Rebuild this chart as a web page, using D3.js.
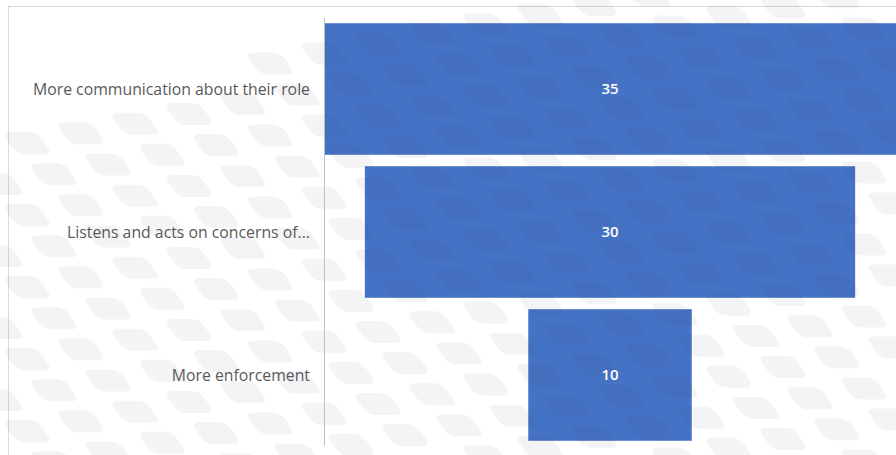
<!DOCTYPE html>
<html>
<head>
<meta charset="utf-8">
<script src="https://cdn.jsdelivr.net/npm/d3@7"></script>
<style>
  html, body { margin: 0; padding: 0; background: #fff; }
  svg { display: block; }
  text { font-family: "Open Sans", "Noto Sans", sans-serif; }
</style>
</head>
<body>
<svg id="chart" width="896" height="455"></svg>
<script>
// funnel data
const categories = ["More communication about their role", "Listens and acts on concerns of...", "More enforcement"];
const values = [35, 30, 10];

const width = 896, height = 455;
const svg = d3.select("#chart");

// frame
svg.append("rect")
    .attr("x", 8.5).attr("y", 6.5)
    .attr("width", 900).attr("height", 460)
    .attr("fill", "#fff")
    .attr("stroke", "#d9d9d9");

const axisX = 324;
const maxW = 572;
const centre = axisX + maxW / 2;

var x = d3.scaleLinear()
    .domain([0, d3.max(values)])
    .range([0, maxW]);

var y = d3.scaleBand()
    .domain(categories)
    .range([17.5, 446.5])
    .paddingInner(0.08)
    .paddingOuter(0.04);

let data = categories.map(function (c, i) { return {cat: c, value: values[i]}; });

// bars
svg.append("g").attr("id", "bars")
    .selectAll("rect")
    .data(data)
    .enter().append("rect")
    .attr("x", function (d) { return centre - x(d.value) / 2; })
    .attr("y", function (d) { return y(d.cat); })
    .attr("width", function (d) { return x(d.value); })
    .attr("height", y.bandwidth())
    .attr("fill", "#4472c4");

// decorative background pattern (slanted rounded tiles), drawn semi-transparent on top
var deco = svg.append("g").attr("fill", "#3c2d6e").attr("fill-opacity", 0.06);
for (let r = -6; r < 18; r++) {
    for (let c = -2; c < 19; c++) {
        let cx = c * 54 + (r % 2 ? 27 : 0);
        let cy = r * 36 - cx * 0.18 + 40;
        // leave the upper-left corner blank
        if (cy < 135 - 0.27 * cx) continue;
        if (cy > 470 || cx > 930) continue;
        deco.append("rect")
            .attr("x", -18).attr("y", -11)
            .attr("width", 36).attr("height", 22)
            .attr("rx", 7)
            .attr("transform", "translate(" + cx + "," + cy + ") skewX(35)");
    }
}

// vertical axis line
svg.append("line")
    .attr("x1", axisX + 0.5).attr("x2", axisX + 0.5)
    .attr("y1", 18).attr("y2", 446)
    .attr("stroke", "#bfbfbf");

// category labels
svg.append("g")
    .selectAll("text")
    .data(data)
    .enter().append("text")
    .attr("x", 310)
    .attr("y", function (d) { return y(d.cat) + y.bandwidth() / 2; })
    .attr("dy", "0.35em")
    .attr("text-anchor", "end")
    .attr("font-size", "15.8px")
    .attr("fill", "#595959")
    .text(function (d) { return d.cat; });

// value labels
svg.append("g")
    .selectAll("text")
    .data(data)
    .enter().append("text")
    .attr("x", centre)
    .attr("y", function (d) { return y(d.cat) + y.bandwidth() / 2; })
    .attr("dy", "0.35em")
    .attr("text-anchor", "middle")
    .attr("font-size", "15px")
    .attr("font-weight", 600)
    .attr("fill", "#fff")
    .text(function (d) { return d.value; });
</script>
</body>
</html>
